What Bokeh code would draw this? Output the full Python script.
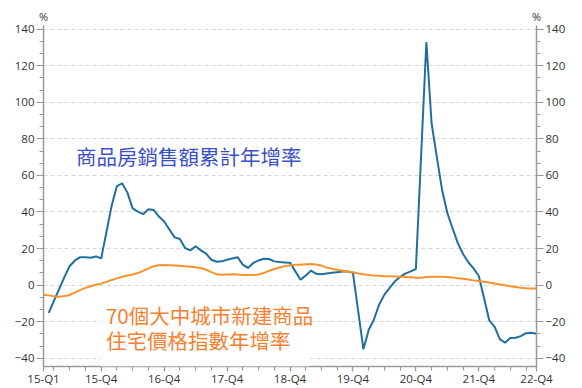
from bokeh.plotting import figure
from bokeh.models import (Range1d, LinearAxis, FixedTicker, SingleIntervalTicker,
                          Label, BoxAnnotation)
from bokeh.embed import file_html
from bokeh.resources import INLINE

# ---------------- data ----------------
BASE_YEAR = 2015  # month index 0 = Jan 2015

# Commercial housing sales value, cumulative YoY % (Jan-Feb combined, so Feb..Dec)
sales_2015 = [-15.2, -8.5, -2.0, 4.5, 10.5, 13.5, 15.3, 15.2, 15.0, 15.7, 14.6]
sales_2016 = [43.5, 54.2, 55.7, 50.6, 42.0, 40.2, 38.8, 41.5, 41.1, 37.5, 34.8]
sales_2017 = [26.1, 25.2, 20.3, 19.0, 21.3, 19.0, 17.2, 13.9, 12.8, 13.0, 13.9]
sales_2018 = [15.3, 11.2, 9.4, 12.1, 13.5, 14.4, 14.3, 13.0, 12.6, 12.4, 12.3]
sales_2019 = [3.0, 5.3, 7.9, 6.2, 5.9, 6.4, 6.8, 7.1, 7.4, 7.5, 6.7]
sales_2020 = [-35.1, -24.5, -18.8, -10.6, -5.2, -1.5, 2.1, 4.5, 6.3, 7.5, 8.8]
sales_2021 = [133.0, 88.4, 70.0, 52.0, 39.5, 31.0, 23.0, 17.0, 12.5, 9.2, 5.0]
sales_2022 = [-19.3, -22.7, -29.5, -31.5, -28.9, -28.8, -27.9, -26.3, -26.1, -26.6]
sales_first_month = 2

# 70-city new commercial residential price index, YoY % (Jan..Dec)
price_2015 = [-5.2, -5.6, -6.1, -6.3, -6.0, -5.4, -4.0, -2.7, -1.5, -0.6, 0.2, 0.8]
price_2016 = [1.8, 2.8, 3.7, 4.6, 5.3, 5.8, 6.6, 7.8, 9.2, 10.3, 10.9, 11.0]
price_2017 = [10.9, 10.8, 10.6, 10.3, 10.1, 9.8, 9.4, 8.4, 7.1, 6.0, 5.7, 5.8]
price_2018 = [5.9, 5.8, 5.6, 5.5, 5.5, 5.8, 6.6, 7.9, 8.8, 9.6, 10.4, 10.8]
price_2019 = [11.1, 11.2, 11.4, 11.5, 11.3, 10.7, 9.6, 9.0, 8.4, 7.9, 7.4, 7.0]
price_2020 = [6.4, 6.0, 5.6, 5.3, 5.1, 4.9, 4.8, 4.7, 4.6, 4.5, 4.3, 4.0]
price_2021 = [4.1, 4.4, 4.6, 4.6, 4.6, 4.4, 4.2, 3.8, 3.5, 3.1, 2.6, 2.2]
price_2022 = [1.8, 1.4, 0.9, 0.3, -0.1, -0.6, -1.0, -1.4, -1.7, -1.9, -1.9]
price_first_month = 1

x_tick_months = [0, 11, 23, 35, 47, 59, 71, 83, 94]
x_tick_labels = ["15-Q1", "15-Q4", "16-Q4", "17-Q4", "18-Q4",
                 "19-Q4", "20-Q4", "21-Q4", "22-Q4"]
x_minor_months = list(range(2, 94, 3))
unit_label = "%"

sales_title = "商品房銷售額累計年增率"
price_title_1 = "70個大中城市新建商品"
price_title_2 = "住宅價格指數年增率"

sales_by_year = {2015: sales_2015, 2016: sales_2016, 2017: sales_2017, 2018: sales_2018,
                 2019: sales_2019, 2020: sales_2020, 2021: sales_2021, 2022: sales_2022}
price_by_year = {2015: price_2015, 2016: price_2016, 2017: price_2017, 2018: price_2018,
                 2019: price_2019, 2020: price_2020, 2021: price_2021, 2022: price_2022}


def month_index(year, month):
    return (year - BASE_YEAR) * 12 + month - 1


def series(by_year, first_month):
    xs, ys = [], []
    for yr, vals in by_year.items():
        for k, v in enumerate(vals):
            xs.append(month_index(yr, first_month + k))
            ys.append(v)
    return xs, ys


sales_x, sales_y = series(sales_by_year, sales_first_month)
price_x, price_y = series(price_by_year, price_first_month)

X_MIN, X_MAX = 0, 94
Y_MIN, Y_MAX = -44.5, 142.0

# ---------------- figure ----------------
p = figure(frame_width=493, frame_height=341,
           x_range=Range1d(X_MIN, X_MAX), y_range=Range1d(Y_MIN, Y_MAX),
           output_backend="svg", toolbar_location=None,
           min_border_left=43, min_border_right=46,
           min_border_top=25, min_border_bottom=22)
p.outline_line_color = None
p.background_fill_color = "white"
p.border_fill_color = "white"

AXIS_COLOR = "#9a9a9a"
LABEL_COLOR = "#333333"
TICK_FONT = "Open Sans"
TICK_SIZE = "11.5px"


def style_y(ax):
    ax.ticker = SingleIntervalTicker(interval=20, num_minor_ticks=3)
    ax.axis_line_color = AXIS_COLOR
    ax.axis_line_width = 1.5
    ax.major_tick_line_color = AXIS_COLOR
    ax.minor_tick_line_color = AXIS_COLOR
    ax.major_tick_line_width = 1.2
    ax.minor_tick_line_width = 1.2
    ax.major_tick_out = 7
    ax.major_tick_in = 0
    ax.minor_tick_out = 4
    ax.minor_tick_in = 0
    ax.major_label_standoff = 2
    ax.major_label_text_color = LABEL_COLOR
    ax.major_label_text_font = TICK_FONT
    ax.major_label_text_font_size = TICK_SIZE


style_y(p.yaxis[0])
right_axis = LinearAxis()
style_y(right_axis)
p.add_layout(right_axis, "right")

xa = p.xaxis[0]
xa.ticker = FixedTicker(ticks=x_tick_months, minor_ticks=x_minor_months)
xa.major_label_overrides = {m: lab for m, lab in zip(x_tick_months, x_tick_labels)}
xa.axis_line_color = AXIS_COLOR
xa.axis_line_width = 1.5
xa.major_tick_line_color = AXIS_COLOR
xa.minor_tick_line_color = AXIS_COLOR
xa.major_tick_line_width = 1.2
xa.minor_tick_line_width = 1.2
xa.major_tick_out = 5
xa.major_tick_in = 0
xa.minor_tick_out = 4
xa.minor_tick_in = 0
xa.major_label_standoff = -1
xa.major_label_text_color = LABEL_COLOR
xa.major_label_text_font = TICK_FONT
xa.major_label_text_font_size = TICK_SIZE

# "%" unit labels above both vertical axes, drawn by an invisible top axis
top_axis = LinearAxis(ticker=FixedTicker(ticks=[X_MIN, X_MAX], minor_ticks=[]))
top_axis.major_label_overrides = {X_MIN: unit_label, X_MAX: unit_label}
top_axis.axis_line_color = None
top_axis.major_tick_line_color = None
top_axis.minor_tick_line_color = None
top_axis.major_tick_out = 0
top_axis.major_tick_in = 0
top_axis.major_label_standoff = 2
top_axis.major_label_text_color = LABEL_COLOR
top_axis.major_label_text_font = TICK_FONT
top_axis.major_label_text_font_size = "11px"
p.add_layout(top_axis, "above")

p.xgrid.visible = False
p.ygrid.ticker = SingleIntervalTicker(interval=20)
p.ygrid.grid_line_color = "#d6d6d6"
p.ygrid.grid_line_dash = "4 3"
p.ygrid.grid_line_width = 1

# ---------------- series ----------------
p.line(sales_x, sales_y, line_color="#1f6fa0", line_width=2)
p.line(price_x, price_y, line_color="#f7932f", line_width=2)

# ---------------- annotations ----------------
p.add_layout(BoxAnnotation(left=10.96, right=50.8, top=-9.0, bottom=Y_MIN,
                           fill_color="white", fill_alpha=1.0, line_color=None))

CJK = "Noto Sans CJK TC"
p.add_layout(Label(x=6.2, y=70.6, text=sales_title, text_font=CJK,
                   text_font_size="20.5px", text_color="#3a50c8",
                   text_align="left", text_baseline="middle"))
p.add_layout(Label(x=11.9, y=-16.4, text=price_title_1, text_font=CJK,
                   text_font_size="20.5px", text_color="#f7802f",
                   text_align="left", text_baseline="middle"))
p.add_layout(Label(x=11.9, y=-29.8, text=price_title_2, text_font=CJK,
                   text_font_size="20.5px", text_color="#f7802f",
                   text_align="left", text_baseline="middle"))

open("out.html", "w").write(file_html(p, INLINE))
